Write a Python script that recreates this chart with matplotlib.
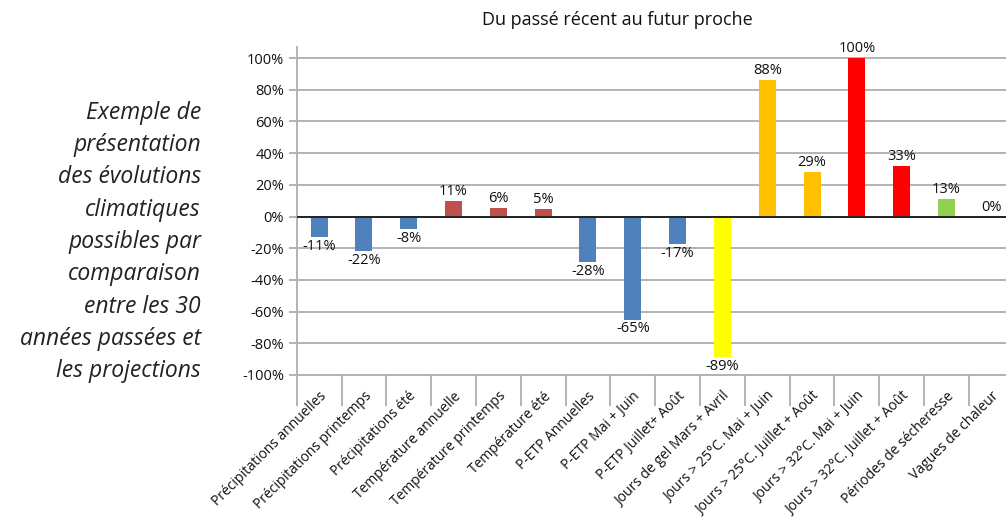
import matplotlib
matplotlib.use("Agg")
import matplotlib.pyplot as plt
import numpy as np

plt.rcParams['font.family'] = ['Open Sans', 'DejaVu Sans']

categories = ["Précipitations annuelles", "Précipitations printemps", "Précipitations été",
              "Température annuelle", "Température printemps", "Température été",
              "P-ETP Annuelles", "P-ETP Mai + Juin", "P-ETP Juillet+ Août",
              "Jours de gel Mars + Avril", "Jours > 25°C. Mai + Juin", "Jours > 25°C. Juillet + Août",
              "Jours > 32°C. Mai + Juin", "Jours > 32°C. Juillet + Août", "Périodes de sécheresse",
              "Vagues de chaleur"]
values = [-12.7, -22, -8, 10, 5.5, 5, -28.9, -65, -17.5, -88.6, 86, 28.3, 100, 32, 11.2, 0]
labels = ["-11%", "-22%", "-8%", "11%", "6%", "5%", "-28%", "-65%", "-17%", "-89%",
          "88%", "29%", "100%", "33%", "13%", "0%"]
colors = ["#4F81BD"] * 3 + ["#C0504D"] * 3 + ["#4F81BD"] * 3 + ["#FFFF00"] + \
         ["#FFC000"] * 2 + ["#FF0000"] * 2 + ["#92D050", "#92D050"]
yticks = [-100, -80, -60, -40, -20, 0, 20, 40, 60, 80, 100]

fig = plt.figure(figsize=(10.06, 5.23), dpi=100)
ax = fig.add_axes([296.7 / 1006, 1 - 375 / 523, 717 / 1006, (375 - 47) / 523])

x = np.arange(len(categories))
ax.bar(x, values, width=0.38, color=colors, zorder=3)
for xi, v, lab in zip(x, values, labels):
    if v < 0:
        ax.text(xi, v - 1.2, lab, ha='center', va='top', fontsize=10.5, color='#111111')
    else:
        ax.text(xi, v + 1.2, lab, ha='center', va='bottom', fontsize=10.5, color='#111111')

ax.set_xlim(-0.5, len(categories) - 0.5)
ax.set_ylim(-100, 107)
ax.set_yticks(yticks)
ax.set_yticklabels([f"{t}%" for t in yticks], fontsize=10.5, color='#111111')
ax.yaxis.grid(True, color='#b3b3b3', lw=1.4, zorder=0)
ax.axhline(0, color='#222222', lw=1.4, zorder=4)

ax.set_xticks(x)
ax.set_xticklabels(categories, rotation=45, ha='right', va='top', rotation_mode='anchor',
                   fontsize=10, color='#111111')
ax.tick_params(axis='x', length=0, pad=10)
ax.set_xticks(np.arange(-0.5, len(categories)), minor=True)
ax.tick_params(axis='x', which='minor', length=22, color='#b3b3b3', width=1.4)
ax.tick_params(axis='y', length=6, color='#b3b3b3', width=1.4, pad=3)

for s in ['top', 'right']:
    ax.spines[s].set_visible(False)
ax.spines['left'].set_color('#b3b3b3')
ax.spines['left'].set_linewidth(1.4)
ax.spines['bottom'].set_color('#b3b3b3')
ax.spines['bottom'].set_linewidth(1.4)

fig.text(617 / 1006, 1 - 20 / 523, "Du passé récent au futur proche", ha='center', va='center',
         fontsize=13, color='#111111')

side_text = ("Exemple de\nprésentation\ndes évolutions\nclimatiques\npossibles par\n"
             "comparaison\nentre les 30\nannées passées et\nles projections")
fig.text(201 / 1006, 1 - 242 / 523, side_text, ha='right', va='center', fontsize=16.5,
         style='italic', linespacing=1.46, color='#222222')

fig.savefig("out.png", dpi=100)
